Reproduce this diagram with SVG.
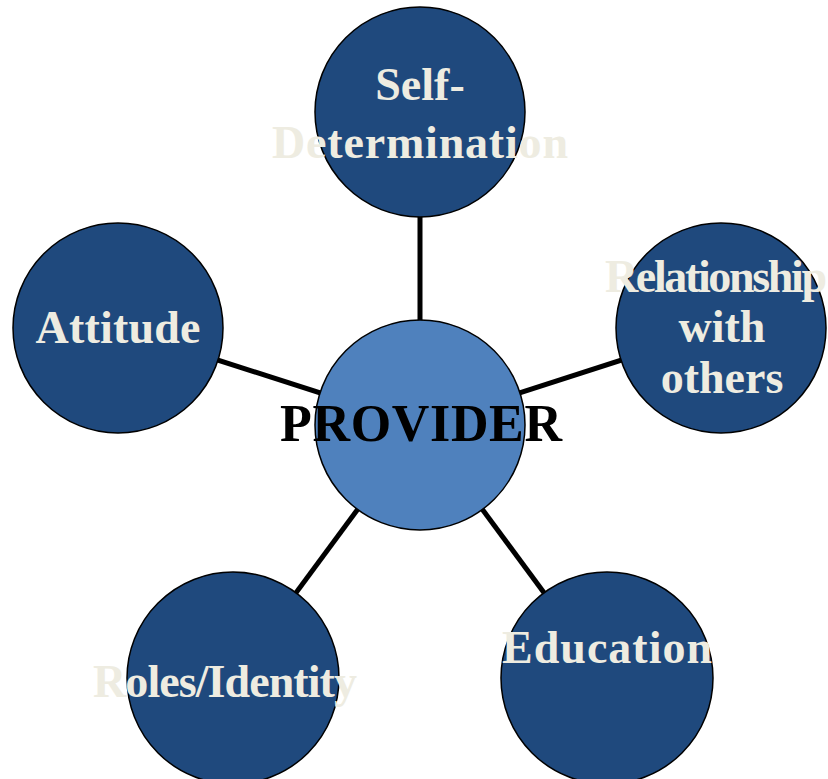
<svg xmlns="http://www.w3.org/2000/svg" width="828" height="779" viewBox="0 0 828 779">
<style>
.n{fill:#1F497D;stroke:#000;stroke-width:1.5}
.c{fill:#4F81BD;stroke:#000;stroke-width:1.5}
.t{font-family:"Liberation Serif",serif;font-weight:bold;font-size:46px;fill:#EEECE1;text-anchor:middle}
.p{font-family:"Liberation Serif",serif;font-weight:bold;font-size:52px;fill:#000;text-anchor:middle}
.e{stroke:#000;stroke-width:5;fill:none}
</style>
<rect width="828" height="779" fill="#fff"/>
<g id="connectors">
<line class="e" x1="420" y1="425" x2="420" y2="112"/>
<line class="e" x1="420" y1="425" x2="118" y2="328"/>
<line class="e" x1="420" y1="425" x2="721" y2="328"/>
<line class="e" x1="420" y1="425" x2="233" y2="678"/>
<line class="e" x1="420" y1="425" x2="607" y2="678"/>
</g>
<g id="self-determination">
<circle class="n" cx="420" cy="112" r="105"/>
<text class="t" x="420" y="100">Self-</text>
<text class="t" x="420" y="158" textLength="296">Determination</text>
</g>
<g id="relationship">
<circle class="n" cx="721" cy="328" r="105"/>
<text class="t" x="716" y="292" textLength="222">Relationship</text>
<text class="t" x="722" y="342">with</text>
<text class="t" x="722" y="393">others</text>
</g>
<g id="attitude">
<circle class="n" cx="118" cy="328" r="105"/>
<text class="t" x="118" y="343" textLength="165">Attitude</text>
</g>
<g id="roles">
<circle class="n" cx="233" cy="678" r="106"/>
<text class="t" x="225" y="697" textLength="264">Roles/Identity</text>
</g>
<g id="education">
<circle class="n" cx="607" cy="678" r="106"/>
<text class="t" x="607" y="663" textLength="210">Education</text>
</g>
<g id="provider">
<circle class="c" cx="420" cy="425" r="105"/>
<text class="p" x="421" y="441" textLength="282">PROVIDER</text>
</g>
</svg>
